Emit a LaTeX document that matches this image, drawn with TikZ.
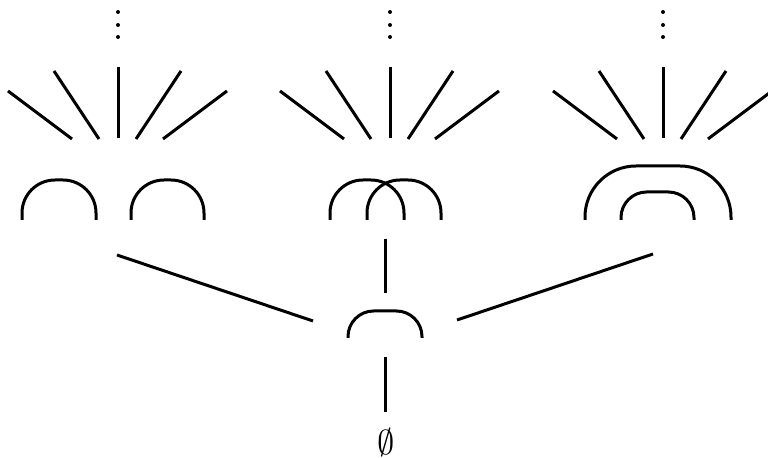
\documentclass[tikz,border=0pt]{standalone}
\begin{document}
\begin{tikzpicture}[x=0.5pt,y=-0.5pt,
  ln/.style={line width=1.5pt, line cap=butt},
  cupS/.style={ln, rounded corners=16.5pt},
  cupL/.style={ln, rounded corners=25.5pt},
  cupM/.style={ln, rounded corners=12.8pt}]
\useasboundingbox (0,0) rectangle (768,458);
\clip (0,0) rectangle (768,458);
% fans and dots
\foreach \c in {118,390,663} {
  \draw[ln] (\c-110,91) -- (\c-46,139);
  \draw[ln] (\c-64,71) -- (\c-19,139);
  \draw[ln] (\c,67) -- (\c,138);
  \draw[ln] (\c+63,71) -- (\c+18,139);
  \draw[ln] (\c+109,91) -- (\c+45,139);
  \fill (\c,12) circle (1pt);
  \fill (\c,25) circle (1pt);
  \fill (\c,37) circle (1pt);
}
% panel 1
\draw[cupS] (22,220) -- (22,180) -- (96,180) -- (96,220);
\draw[cupS] (131,220) -- (131,180) -- (204,180) -- (204,220);
% panel 2
\draw[cupS] (330,220) -- (330,180) -- (404,180) -- (404,220);
\draw[cupS] (367,220) -- (367,180) -- (441,180) -- (441,220);
% panel 3
\draw[cupL] (585,220) -- (585,166) -- (731,166) -- (731,220);
\draw[cupM] (621,220) -- (621,192) -- (694,192) -- (694,220);
% middle
\draw[cupM] (348,338) -- (348,311) -- (422,311) -- (422,338);
\node[inner sep=0pt] (empty) at (386,443) {\LARGE$\emptyset$};
\coordinate (la) at (117,255);
\coordinate (lb) at (313,321);
\coordinate (ra) at (653,254);
\coordinate (rb) at (457,320);
\coordinate (ma) at (385,239);
\coordinate (mb) at (385,293);
\coordinate (da) at (385,357);
\coordinate (db) at (385,412);
\draw[ln] (la) -- (lb);
\draw[ln] (ra) -- (rb);
\draw[ln] (ma) -- (mb);
\draw[ln] (da) -- (db);
\end{tikzpicture}
\end{document}
